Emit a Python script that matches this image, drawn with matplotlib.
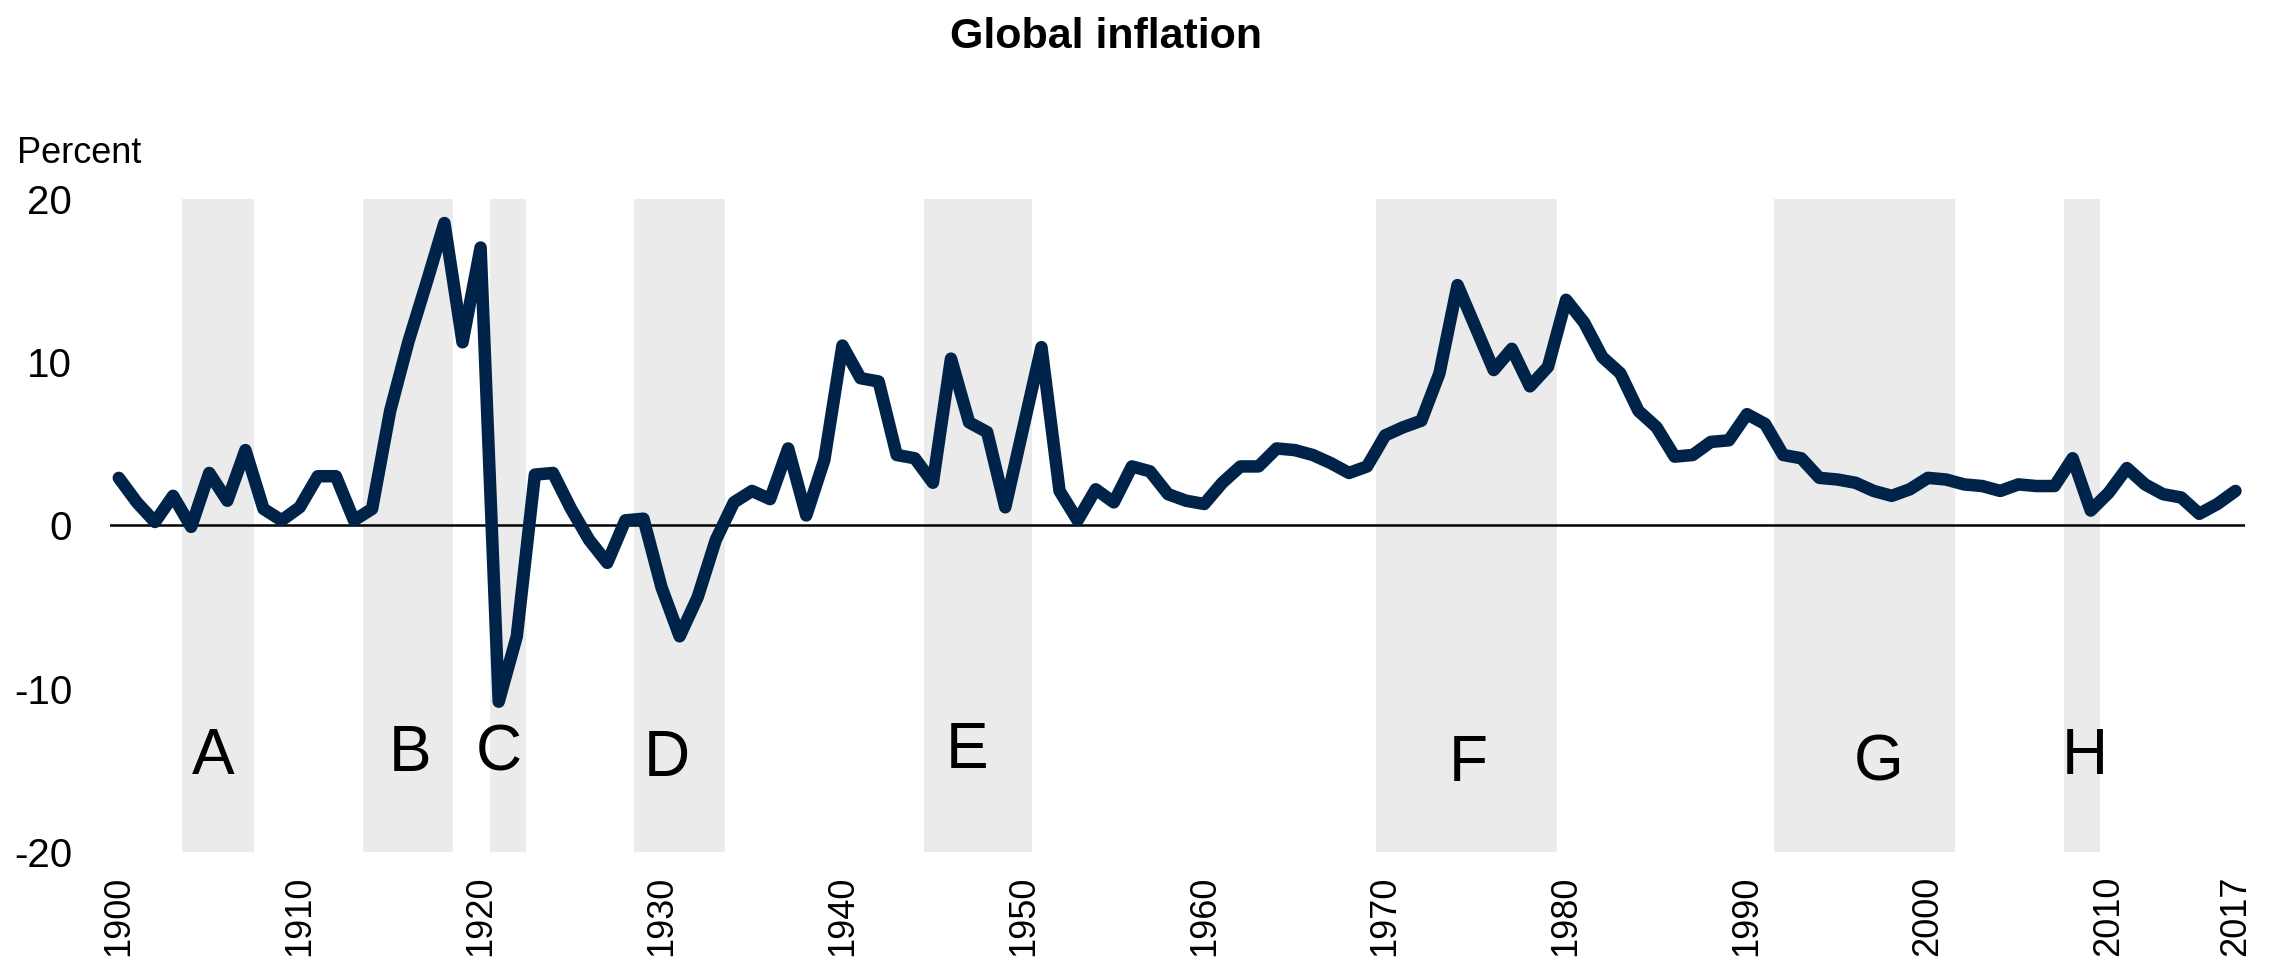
import numpy as np
import matplotlib
matplotlib.use("Agg")
import matplotlib.pyplot as plt
from matplotlib import font_manager

# global inflation, percent, 1900-2017
years = list(range(1900, 2018))
inflation = [
    2.9, 1.4, 0.2, 1.8, -0.1, 3.2, 1.5, 4.6, 1.0, 0.3,      # 1900s
    1.1, 3.0, 3.0, 0.3, 1.0, 7.0, 11.2, 14.8, 18.5, 11.2,   # 1910s
    17.0, -10.8, -6.8, 3.1, 3.2, 1.0, -0.9, -2.3, 0.3, 0.4,  # 1920s
    -3.8, -6.8, -4.4, -0.9, 1.4, 2.1, 1.6, 4.7, 0.6, 4.0,   # 1930s
    11.0, 9.0, 8.8, 4.3, 4.1, 2.6, 10.2, 6.3, 5.7, 1.1,     # 1940s
    6.0, 10.9, 2.1, 0.3, 2.2, 1.4, 3.6, 3.3, 1.9, 1.5,      # 1950s
    1.3, 2.6, 3.6, 3.6, 4.7, 4.6, 4.3, 3.8, 3.2, 3.6,       # 1960s
    5.5, 6.0, 6.4, 9.3, 14.7, 12.1, 9.5, 10.8, 8.5, 9.7,    # 1970s
    13.8, 12.4, 10.3, 9.3, 7.0, 6.0, 4.2, 4.3, 5.1, 5.2,    # 1980s
    6.8, 6.2, 4.3, 4.1, 2.9, 2.8, 2.6, 2.1, 1.8, 2.2,       # 1990s
    2.9, 2.8, 2.5, 2.4, 2.1, 2.5, 2.4, 2.4, 4.1, 0.9,       # 2000s
    2.0, 3.5, 2.5, 1.9, 1.7, 0.7, 1.3, 2.1,                 # 2010s
]

# shaded episodes: first year, last year, label, label position
episode_names = ["A", "B", "C", "D", "E", "F", "G", "H"]
episode_start = [1904, 1914, 1921, 1929, 1945, 1970, 1992, 2008]
episode_end = [1907, 1918, 1922, 1933, 1950, 1979, 2001, 2009]
label_x = [1905.2, 1916.1, 1921.0, 1930.3, 1946.9, 1974.6, 1997.3, 2008.7]
label_y = [-14.2, -14.0, -14.0, -14.3, -13.8, -14.6, -14.6, -14.2]

xticks = [1900, 1910, 1920, 1930, 1940, 1950, 1960, 1970, 1980, 1990, 2000, 2010, 2017]
yticks = [-20, -10, 0, 10, 20]

# narrow font if there is one, otherwise plain Liberation Sans
installed = {f.name for f in font_manager.fontManager.ttflist}
narrow = [n for n in ["Liberation Sans Narrow", "Arial Narrow"] if n in installed]
has_narrow = len(narrow) > 0
narrow = narrow + ["Liberation Sans", "DejaVu Sans"]
plt.rcParams["font.family"] = ["Liberation Sans", "DejaVu Sans"]

fig = plt.figure(figsize=(22.72, 9.59), dpi=100)
ax = fig.add_axes([0.0483, 0.1116, 0.9396, 0.6814])

for s, e in zip(episode_start, episode_end):
    ax.axvspan(s - 0.5, e + 0.5, color="#ebebeb", lw=0, zorder=0)

ax.axhline(0, color="black", lw=1.8, zorder=1)
ax.plot(years, inflation, color="#00234a", lw=9.0, solid_joinstyle="round",
        solid_capstyle="round", zorder=3)

for name, lx, ly in zip(episode_names, label_x, label_y):
    ax.text(lx, ly, name, fontsize=46, ha="center", va="center", zorder=4)

ax.set_xlim(1899.5, 2017.5)
ax.set_ylim(-20, 20)
for sp in ax.spines.values():
    sp.set_visible(False)

ax.set_xticks(xticks)
ax.set_xticklabels([str(t) for t in xticks], rotation=90, fontsize=26)
ax.set_yticks(yticks)
ax.set_yticklabels([str(t) for t in yticks], fontsize=29)
ax.tick_params(axis="x", length=0, pad=17)
ax.tick_params(axis="y", length=0, pad=27)
for lab in ax.get_xticklabels():
    lab.set_va("top")

fig.text(0.0075, 0.830, "Percent", fontsize=31 if has_narrow else 26,
         family=narrow, ha="left", va="baseline")
fig.text(0.4866, 0.982, "Global inflation", fontsize=38 if has_narrow else 31,
         fontweight="bold", family=narrow, ha="center", va="top")

fig.savefig("out.png", dpi=100)
